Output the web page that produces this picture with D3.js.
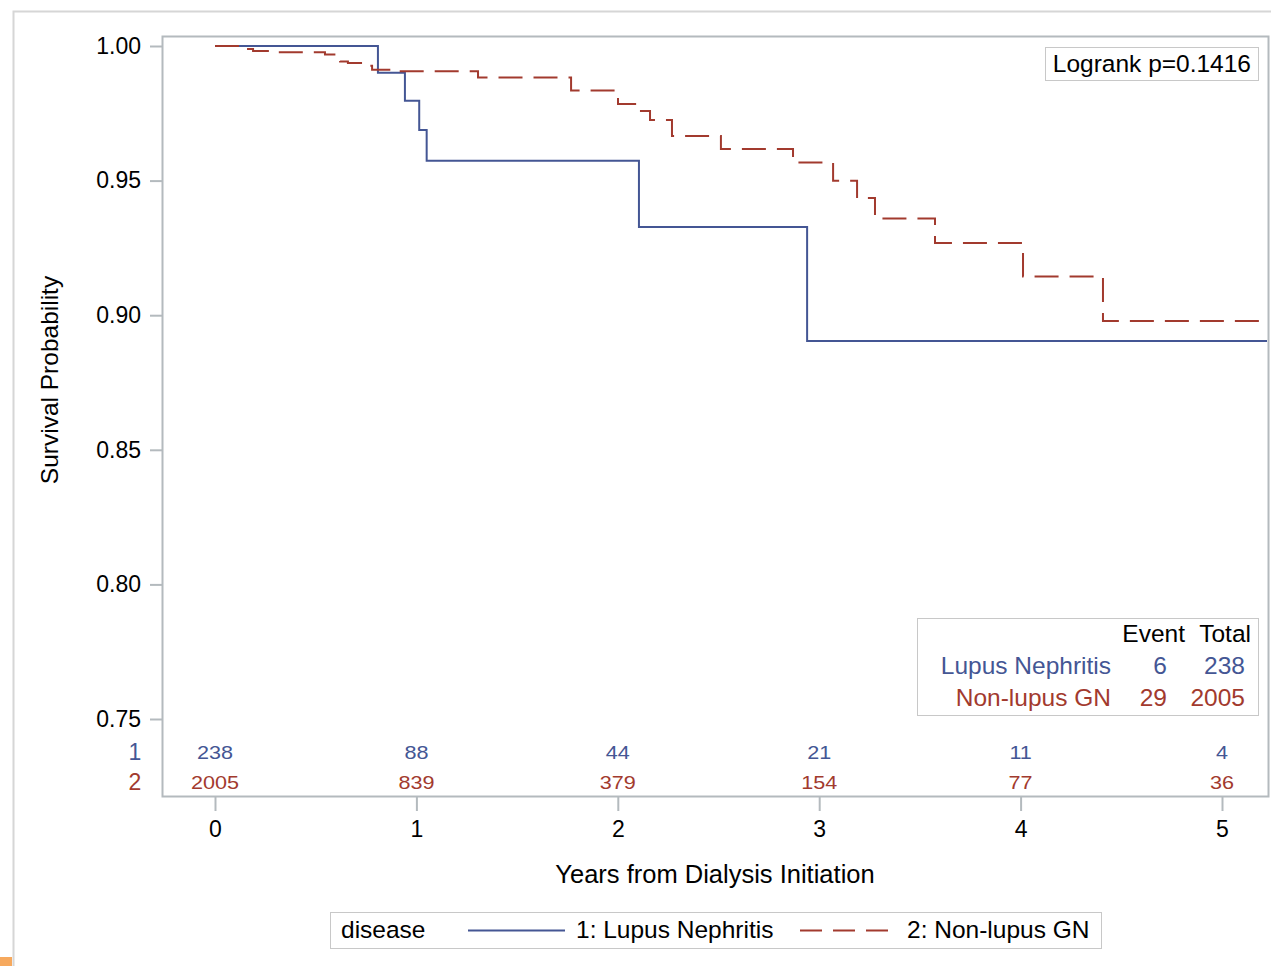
<!DOCTYPE html>
<html>
<head>
<meta charset="utf-8">
<script src="https://cdn.jsdelivr.net/npm/d3@7"></script>
<style>
  body { margin: 0; background: #fff; }
  svg text { font-family: "Liberation Sans", Arial, sans-serif; fill: #000; }
</style>
</head>
<body>
<svg id="chart"></svg>
<script>
'use strict';

// KM step data (years, survival probability)
var lupusTimes = [0, 0.809, 0.943, 1.014, 1.051, 2.105, 2.94];
var lupusSurv  = [1.0, 0.9901, 0.9797, 0.9688, 0.9574, 0.9328, 0.8904];

var nonLupusTimes = [0, 0.149, 0.189, 0.313, 0.546, 0.601, 0.621, 0.660, 0.755, 0.780, 0.904,
                     1.306, 1.768, 1.986, 2.001, 2.115, 2.160, 2.269, 2.512, 2.870, 3.069,
                     3.188, 3.277, 3.575, 4.012, 4.409];
var nonLupusSurv  = [1.0, 0.9989, 0.9981, 0.9977, 0.9968, 0.9955, 0.9942, 0.9937, 0.9927, 0.9912, 0.9906,
                     0.9883, 0.9835, 0.9807, 0.9785, 0.9759, 0.9725, 0.9666, 0.9617, 0.9567, 0.9499,
                     0.9435, 0.9359, 0.9268, 0.9144, 0.8978];

var xTicks = [0, 1, 2, 3, 4, 5];
var yTicks = [0.75, 0.80, 0.85, 0.90, 0.95, 1.00];
var atRisk1 = [238, 88, 44, 21, 11, 4];
var atRisk2 = [2005, 839, 379, 154, 77, 36];
var groupNames = ["Lupus Nephritis", "Non-lupus GN"];
var groupEvents = [6, 29];
var groupTotals = [238, 2005];
var logrankP = "0.1416";

var blue = "#445694", red = "#a23a2e";
var frameColor = "#b4babe";

function d3init() {
    var svg = d3.select("#chart")
            .attr("width", 1271)
            .attr("height", 966);

    // outer graph border (cropped screenshot)
    svg.append("path")
        .attr("d", "M13.5,966 V11.5 H1271")
        .attr("fill", "none")
        .attr("stroke", "#d6d6d6")
        .attr("stroke-width", 2);
    svg.append("rect")
        .attr("x", 0).attr("y", 957).attr("width", 12).attr("height", 9)
        .attr("fill", "#f6a95e");

    var frame = {left: 162, top: 36, right: 1268, bottom: 796};

    var x = d3.scaleLinear().domain([0, 5]).range([215, 1222]);
    var y = d3.scaleLinear().domain([0.75, 1.0]).range([719, 46]);

    // plot frame
    svg.append("rect")
        .attr("x", frame.left + 0.5).attr("y", frame.top + 0.5)
        .attr("width", frame.right - frame.left)
        .attr("height", frame.bottom - frame.top)
        .attr("fill", "none")
        .attr("stroke", frameColor)
        .attr("stroke-width", 2);

    // y axis ticks + labels
    var yAxis = d3.axisLeft(y).tickValues(yTicks).tickFormat(d3.format(".2f"))
        .tickSize(12).tickPadding(9);
    var gy = svg.append("g").attr("transform", "translate(" + frame.left + ",0)").call(yAxis);
    gy.select(".domain").remove();
    gy.selectAll(".tick line").attr("stroke", frameColor).attr("stroke-width", 2);
    gy.selectAll(".tick text").attr("font-size", 23).attr("fill", "#000")
        .attr("font-family", "Liberation Sans, Arial, sans-serif");

    // x axis ticks + labels
    var xAxis = d3.axisBottom(x).tickValues(xTicks).tickFormat(d3.format("d"))
        .tickSize(14).tickPadding(10);
    var gx = svg.append("g").attr("transform", "translate(0," + (frame.bottom + 1) + ")").call(xAxis);
    gx.select(".domain").remove();
    gx.selectAll(".tick line").attr("stroke", frameColor).attr("stroke-width", 2);
    gx.selectAll(".tick text").attr("font-size", 23).attr("fill", "#000")
        .attr("font-family", "Liberation Sans, Arial, sans-serif");

    // axis titles
    svg.append("text")
        .attr("x", 715).attr("y", 883)
        .attr("text-anchor", "middle")
        .attr("font-size", 25.5)
        .text("Years from Dialysis Initiation");
    svg.append("text")
        .attr("transform", "translate(58,380) rotate(-90)")
        .attr("text-anchor", "middle")
        .attr("font-size", 24.5)
        .text("Survival Probability");

    // survival curves
    var xEnd = x.invert(frame.right - 1);
    var step = d3.line()
        .x(function(d) { return x(d[0]); })
        .y(function(d) { return y(d[1]); })
        .curve(d3.curveStepAfter);

    function pts(times, surv) {
        var p = times.map(function(t, i) { return [t, surv[i]]; });
        p.push([xEnd, surv[surv.length - 1]]);
        return p;
    }

    svg.append("path")
        .datum(pts(lupusTimes, lupusSurv))
        .attr("d", step)
        .attr("fill", "none")
        .attr("stroke", blue)
        .attr("stroke-width", 2);

    svg.append("path")
        .datum(pts(nonLupusTimes, nonLupusSurv))
        .attr("d", step)
        .attr("fill", "none")
        .attr("stroke", red)
        .attr("stroke-width", 2)
        .attr("stroke-dasharray", "24,11");

    // number at risk rows
    var rows = [{lab: "1", vals: atRisk1, col: blue, y: 759},
                {lab: "2", vals: atRisk2, col: red, y: 789}];
    rows.forEach(function(r) {
        svg.append("text")
            .attr("x", 135).attr("y", r.y + 1)
            .attr("text-anchor", "middle")
            .attr("font-size", 23)
            .style("fill", r.col)
            .text(r.lab);
        svg.selectAll(null)
            .data(r.vals)
            .enter().append("text")
            .attr("transform", function(d, i) { return "translate(" + x(xTicks[i]) + "," + r.y + ") scale(1.2,1)"; })
            .attr("text-anchor", "middle")
            .attr("font-size", 18)
            .style("fill", r.col)
            .text(function(d) { return d; });
    });

    // logrank box
    svg.append("rect")
        .attr("x", 1045.5).attr("y", 47.5).attr("width", 213).attr("height", 33)
        .attr("fill", "#fff").attr("stroke", "#c8c8c8");
    svg.append("text")
        .attr("x", 1251).attr("y", 72)
        .attr("text-anchor", "end")
        .attr("font-size", 24.5)
        .text("Logrank p=" + logrankP);

    // event/total inset
    var fs = 24.5;
    svg.append("rect")
        .attr("x", 917.5).attr("y", 618.5).attr("width", 341).attr("height", 97)
        .attr("fill", "#fff").attr("stroke", "#c8c8c8");
    svg.append("text").attr("x", 1185).attr("y", 642).attr("text-anchor", "end")
        .attr("font-size", fs).text("Event");
    svg.append("text").attr("x", 1251).attr("y", 642).attr("text-anchor", "end")
        .attr("font-size", fs).text("Total");
    var cols = [blue, red];
    groupNames.forEach(function(name, i) {
        var ty = 674 + i * 32;
        svg.append("text").attr("x", 1111).attr("y", ty).attr("text-anchor", "end")
            .attr("font-size", fs).style("fill", cols[i]).text(name);
        svg.append("text").attr("x", 1167).attr("y", ty).attr("text-anchor", "end")
            .attr("font-size", fs).style("fill", cols[i]).text(groupEvents[i]);
        svg.append("text").attr("x", 1245).attr("y", ty).attr("text-anchor", "end")
            .attr("font-size", fs).style("fill", cols[i]).text(groupTotals[i]);
    });

    // bottom legend
    svg.append("rect")
        .attr("x", 330.5).attr("y", 912.5).attr("width", 771).attr("height", 36)
        .attr("fill", "#fff").attr("stroke", "#c8c8c8");
    svg.append("text").attr("x", 341).attr("y", 938).attr("font-size", fs).text("disease");
    svg.append("line")
        .attr("x1", 468).attr("x2", 565).attr("y1", 930.5).attr("y2", 930.5)
        .attr("stroke", blue).attr("stroke-width", 2);
    svg.append("text").attr("x", 576).attr("y", 938).attr("font-size", fs).text("1: " + groupNames[0]);
    svg.append("line")
        .attr("x1", 800).attr("x2", 888).attr("y1", 930.5).attr("y2", 930.5)
        .attr("stroke", red).attr("stroke-width", 2)
        .attr("stroke-dasharray", "22,11");
    svg.append("text").attr("x", 907).attr("y", 938).attr("font-size", fs).text("2: " + groupNames[1]);
}

d3init();
</script>
</body>
</html>
